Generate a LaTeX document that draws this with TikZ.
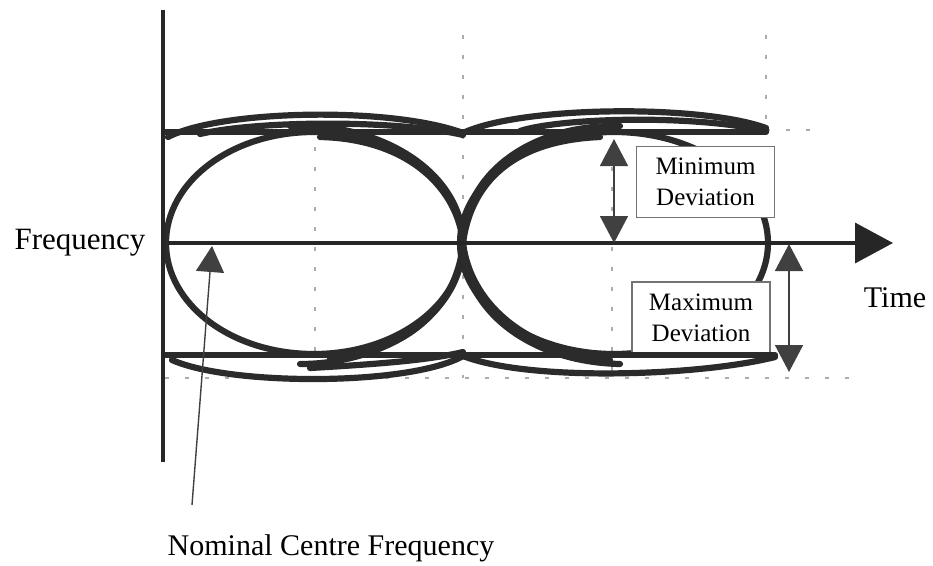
\documentclass[tikz,border=0pt]{standalone}
\usepackage{fontspec}
\setmainfont{Liberation Serif}
\usetikzlibrary{arrows.meta}
\definecolor{tr}{HTML}{2B2B2B}
\begin{document}
\begin{tikzpicture}[x=1pt,y=-1pt,
  trace/.style={draw=tr, line width=6.2pt, line cap=round},
  gridline/.style={draw=gray!65, line width=1.8pt, dash pattern=on 4pt off 16pt},
  axis/.style={draw=black!85, line width=3.5pt},
  dev/.style={draw=black!75, line width=1.6pt, {Triangle[length=27pt,width=28pt]}-{Triangle[length=27pt,width=28pt]}},
  lbl/.style={font=\fontsize{30}{34}\selectfont, text=black, inner sep=0pt},
  devbox/.style={draw=black!55, line width=1.2pt, fill=white, font=\fontsize{25}{31}\selectfont, text=black, align=center, inner sep=0pt, minimum width=138pt, minimum height=71pt}]
\useasboundingbox (0,0) rectangle (933,565);

% grid
\coordinate (g1t) at (315,147); \coordinate (g1b) at (315,378);
\coordinate (g2t) at (463,35);  \coordinate (g2b) at (463,378);
\coordinate (g3t) at (612,147); \coordinate (g3b) at (612,378);
\coordinate (g4t) at (766,35);  \coordinate (g4b) at (766,130);
\coordinate (h1a) at (766,130); \coordinate (h1b) at (812,130);
\coordinate (h2a) at (165,378); \coordinate (h2b) at (862,378);
\draw[gridline] (g1t) -- (g1b);
\draw[gridline] (g2t) -- (g2b);
\draw[gridline] (g3t) -- (g3b);
\draw[gridline] (g4t) -- (g4b);
\draw[gridline] (h1a) -- (h1b);
\draw[gridline] (h2a) -- (h2b);

% eye traces (ellipses as four bezier quarters)
\draw[trace] (166,243) .. controls (166,182) and (231,132) .. (314,132)
                       .. controls (396,132) and (463,182) .. (463,243)
                       .. controls (463,304) and (396,354) .. (314,354)
                       .. controls (231,354) and (166,304) .. (166,243) -- cycle;
\draw[trace] (460,243) .. controls (460,182) and (529,132) .. (614,132)
                       .. controls (699,132) and (768,182) .. (768,243)
                       .. controls (768,304) and (699,354) .. (614,354)
                       .. controls (529,354) and (460,304) .. (460,243) -- cycle;
% extra right half arcs of left eye
\draw[trace] (290,126) .. controls (385,122) and (463,175) .. (463,243)
                       .. controls (463,310) and (390,364) .. (300,364);
\draw[trace] (320,137) .. controls (410,139) and (458,190) .. (463,243)
                       .. controls (458,300) and (415,352) .. (330,358);
% extra left half arcs of right eye
\draw[trace] (620,126) .. controls (530,124) and (463,175) .. (463,243)
                       .. controls (463,310) and (530,362) .. (620,364);
\draw[trace] (600,137) .. controls (505,141) and (470,190) .. (463,243)
                       .. controls (470,300) and (520,350) .. (610,360);
% top humps
\draw[trace] (168,137) .. controls (220,110) and (390,106) .. (463,133);
\draw[trace] (200,134) .. controls (260,120) and (400,120) .. (463,135);
\draw[trace] (463,133) .. controls (520,106) and (700,104) .. (766,128);
\draw[trace] (520,131) .. controls (560,118) and (690,114) .. (766,131);
% bottom humps
\draw[trace] (172,360) .. controls (230,386) and (410,386) .. (463,356);
\draw[trace] (310,368) .. controls (380,364) and (430,360) .. (463,352);
\draw[trace] (463,356) .. controls (530,382) and (700,376) .. (775,357);
% upper rail
\draw[trace] (165,132) -- (766,132);

% boxes
\node[devbox] (minbox) at (705.5,182) {Minimum\\Deviation};
\node[devbox] (maxbox) at (701,317.5) {Maximum\\Deviation};

% lower rail
\draw[trace] (165,355) -- (775,355);

% axes
\coordinate (vtop) at (163,10); \coordinate (vbot) at (163,462);
\coordinate (hstart) at (168,243); \coordinate (hend) at (893,243);
\draw[axis] (vtop) -- (vbot);
\draw[axis, -{Triangle[length=38pt,width=40pt]}] (hstart) -- (hend);

% deviation arrows
\coordinate (mina) at (614,139); \coordinate (minb) at (614,243);
\coordinate (maxa) at (789,244); \coordinate (maxb) at (789,372);
\draw[dev] (mina) -- (minb);
\draw[dev] (maxa) -- (maxb);

% labels
\node[lbl, font=\fontsize{31}{35}\selectfont] (freq) at (80,243) {Frequency};
\node[lbl] (time) at (895,298) {Time};
\node[lbl] (nom) at (331,548) {Nominal Centre Frequency};
\coordinate (nomtail) at (192,505); \coordinate (nomtip) at (212,246);
\draw[draw=black!75, line width=1.4pt, -{Triangle[length=26pt,width=28pt]}] (nomtail) -- (nomtip);
\end{tikzpicture}
\end{document}
